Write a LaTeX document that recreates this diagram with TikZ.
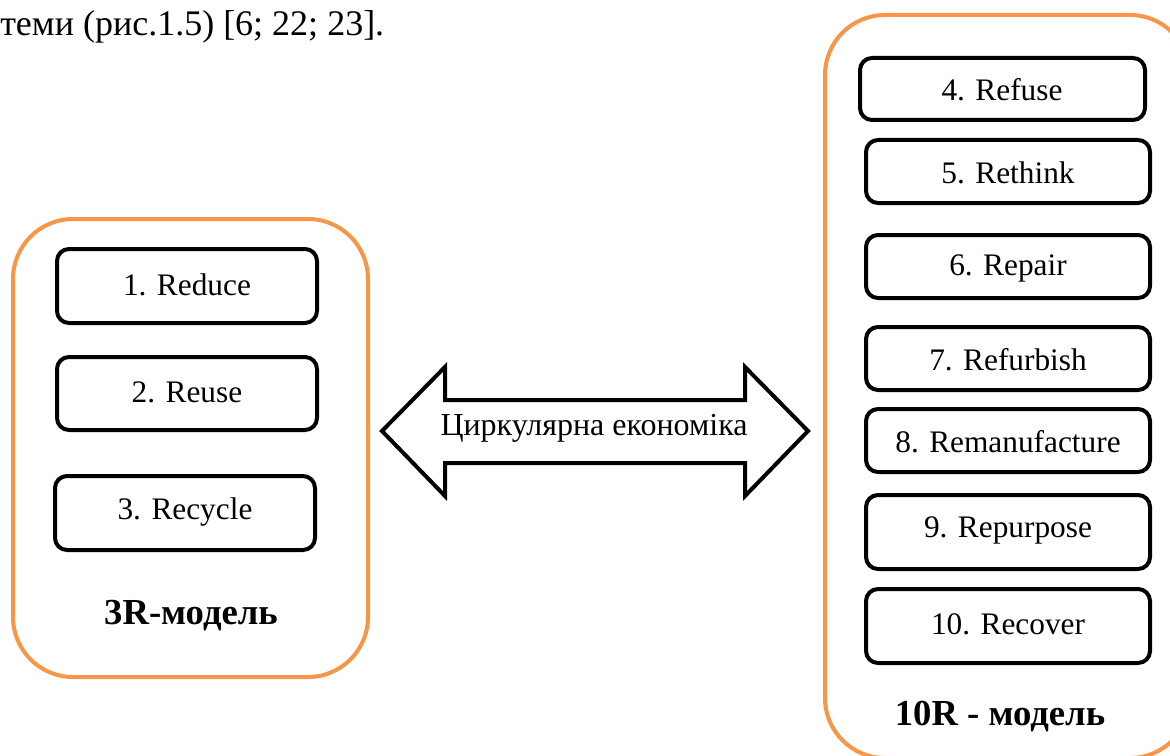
\documentclass[tikz,border=0pt]{standalone}
\usepackage{fontspec}
\setmainfont{Liberation Serif}
\definecolor{borange}{HTML}{F79646}
\begin{document}
\begin{tikzpicture}[x=0.75pt,y=-0.75pt,
  outer/.style={draw=borange,line width=3pt,rounded corners=45pt},
  item/.style={draw=black,line width=3pt,rounded corners=9pt},
  itemtext/.style={font=\fontsize{23.5}{26}\selectfont,inner sep=0pt},
  modeltext/.style={font=\fontsize{27.5}{31}\selectfont\bfseries,inner sep=0pt}]
\useasboundingbox (0,0) rectangle (1170,756);
\clip (0,0) rectangle (1170,756);
\fill[white] (0,0) rectangle (1170,756);
% top text
\node[anchor=base west,inner sep=0pt,font=\fontsize{27}{30}\selectfont] (top) at (0,36) {теми (рис.1.5) [6; 22; 23].};
% left model
\draw[outer] (13,219) rectangle (368,677);
\draw[item] (57,249) rectangle (317,323);
\node[itemtext] (r1) at (187,285) {1. Reduce};
\draw[item] (57,357) rectangle (317,430);
\node[itemtext] (r2) at (187,392) {2. Reuse};
\draw[item] (55,476) rectangle (315,550);
\node[itemtext] (r3) at (185,512) {3. Recycle};
\node[modeltext] (m3) at (191,616) {3R-модель};
% right model
\draw[outer] (825,15) rectangle (1190,758);
\draw[item] (860,58) rectangle (1145,120);
\node[itemtext] (r4) at (1002,90) {4. Refuse};
\draw[item] (866,140) rectangle (1150,203);
\node[itemtext] (r5) at (1008,173) {5. Rethink};
\draw[item] (866,235) rectangle (1150,298);
\node[itemtext] (r6) at (1008,268) {6. Repair};
\draw[item] (866,327) rectangle (1150,390);
\node[itemtext] (r7) at (1008,360) {7. Refurbish};
\draw[item] (866,409) rectangle (1150,472);
\node[itemtext] (r8) at (1008,442) {8. Remanufacture};
\draw[item] (866,495) rectangle (1150,569);
\node[itemtext] (r9) at (1008,530) {9. Repurpose};
\draw[item] (866,589) rectangle (1150,663);
\node[itemtext] (r10) at (1008,624) {10. Recover};
\node[modeltext] (m10) at (1000,716) {10R - модель};
% double arrow
\draw[line width=3pt,line join=miter,fill=white] (382,431) -- (445,367) -- (445,400) -- (745,400) -- (745,367) -- (808,431) -- (745,496) -- (745,463) -- (445,463) -- (445,496) -- cycle;
\node[inner sep=0pt,font=\fontsize{24}{27}\selectfont] (ce) at (594,428) {Циркулярна економіка};
\end{tikzpicture}
\end{document}
